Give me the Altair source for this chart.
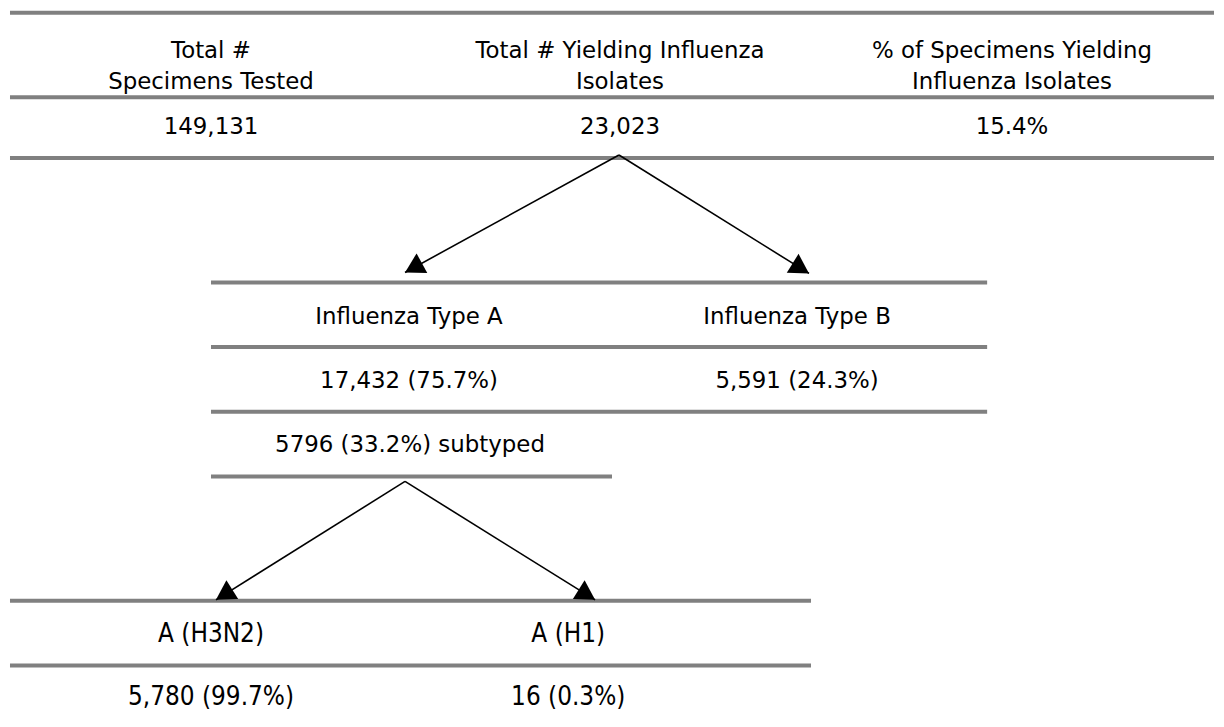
import math
import altair as alt
import pandas as pd

# ---- content ----
top_headers_1 = ["Total #", "Total # Yielding Influenza", "% of Specimens Yielding"]
top_headers_2 = ["Specimens Tested", "Isolates", "Influenza Isolates"]
top_values = ["149,131", "23,023", "15.4%"]
type_labels = ["Influenza Type A", "Influenza Type B"]
type_values = ["17,432 (75.7%)", "5,591 (24.3%)"]
subtyped_label = ["5796 (33.2%) subtyped"]
sub_labels = ["A (H3N2)", "A (H1)"]
sub_values = ["5,780 (99.7%)", "16 (0.3%)"]

# ---- layout (reference pixel space) ----
top_x = [212, 623, 1017]
type_x = [411, 801]
sub_x = [212, 571]
sub_top_x = [412]

row_y = {
    "h1": 56, "h2": 88, "v": 133,
    "type": 324, "typev": 388, "subt": 452,
    "sub": 643, "subv": 707,
}

rule_x1 = [10, 10, 10, 212, 212, 212, 212, 10, 10]
rule_x2 = [1220, 1220, 1220, 992, 992, 992, 615, 815, 815]
rule_y = [11, 96, 157, 282, 347, 412, 477, 602, 667]

arrow_x1 = [622, 622, 407, 407]
arrow_y1 = [154, 154, 482, 482]
arrow_x2 = [407, 813, 217, 598]
arrow_y2 = [272, 273, 601, 601]

W, H = 1214, 711
xs = alt.Scale(domain=[8, 8 + W], nice=False, zero=False)
ys = alt.Scale(domain=[8, 8 + H], nice=False, zero=False, reverse=True)

rules_df = pd.DataFrame({"x": rule_x1, "x2": rule_x2, "y": rule_y})
rules = alt.Chart(rules_df).mark_rule(color="#808080", strokeWidth=4).encode(
    x=alt.X("x:Q", scale=xs, axis=None),
    x2="x2:Q",
    y=alt.Y("y:Q", scale=ys, axis=None),
)

arr_df = pd.DataFrame({"x": arrow_x1, "y": arrow_y1, "x2": arrow_x2, "y2": arrow_y2})
arr_df["angle"] = [
    (math.degrees(math.atan2(x2 - x1, -(y2 - y1))) + 360) % 360
    for x1, y1, x2, y2 in zip(arrow_x1, arrow_y1, arrow_x2, arrow_y2)
]
arrows = alt.Chart(arr_df).mark_rule(color="black", strokeWidth=1.6).encode(
    x=alt.X("x:Q", scale=xs, axis=None),
    y=alt.Y("y:Q", scale=ys, axis=None),
    x2="x2:Q",
    y2="y2:Q",
)
heads = alt.Chart(arr_df).mark_point(
    shape="M0,0L-1,1.732L1,1.732Z", filled=True, color="black",
    opacity=1, size=500, strokeWidth=0,
).encode(
    x=alt.X("x2:Q", scale=xs, axis=None),
    y=alt.Y("y2:Q", scale=ys, axis=None),
    angle=alt.Angle("angle:Q", scale=None),
)

texts = []
def add(labels, xpos, ykey, font):
    for t, x in zip(labels, xpos):
        texts.append({"text": t, "x": x, "y": row_y[ykey], "font": font})

add(top_headers_1, top_x, "h1", "main")
add(top_headers_2, top_x, "h2", "main")
add(top_values, top_x, "v", "main")
add(type_labels, type_x, "type", "main")
add(type_values, type_x, "typev", "main")
add(subtyped_label, sub_top_x, "subt", "main")
add(sub_labels, sub_x, "sub", "narrow")
add(sub_values, sub_x, "subv", "narrow")
tdf = pd.DataFrame(texts)

main_text = alt.Chart(tdf[tdf.font == "main"]).mark_text(
    font="DejaVu Sans", fontSize=23, align="center", baseline="alphabetic", color="#000000"
).encode(
    x=alt.X("x:Q", scale=xs, axis=None),
    y=alt.Y("y:Q", scale=ys, axis=None),
    text="text:N",
)
narrow_text = alt.Chart(tdf[tdf.font == "narrow"]).mark_text(
    font="Liberation Sans Narrow, DejaVu Sans Condensed, Roboto Condensed, sans-serif",
    fontSize=26, align="center", baseline="alphabetic", color="#000000"
).encode(
    x=alt.X("x:Q", scale=xs, axis=None),
    y=alt.Y("y:Q", scale=ys, axis=None),
    text="text:N",
)

chart = alt.layer(rules, arrows, heads, main_text, narrow_text).properties(
    width=W, height=H, autosize=alt.AutoSizeParams(type="none"), padding=0,
).configure_view(stroke=None)

chart.save("out.html", embed_options={"renderer": "svg", "actions": False})
